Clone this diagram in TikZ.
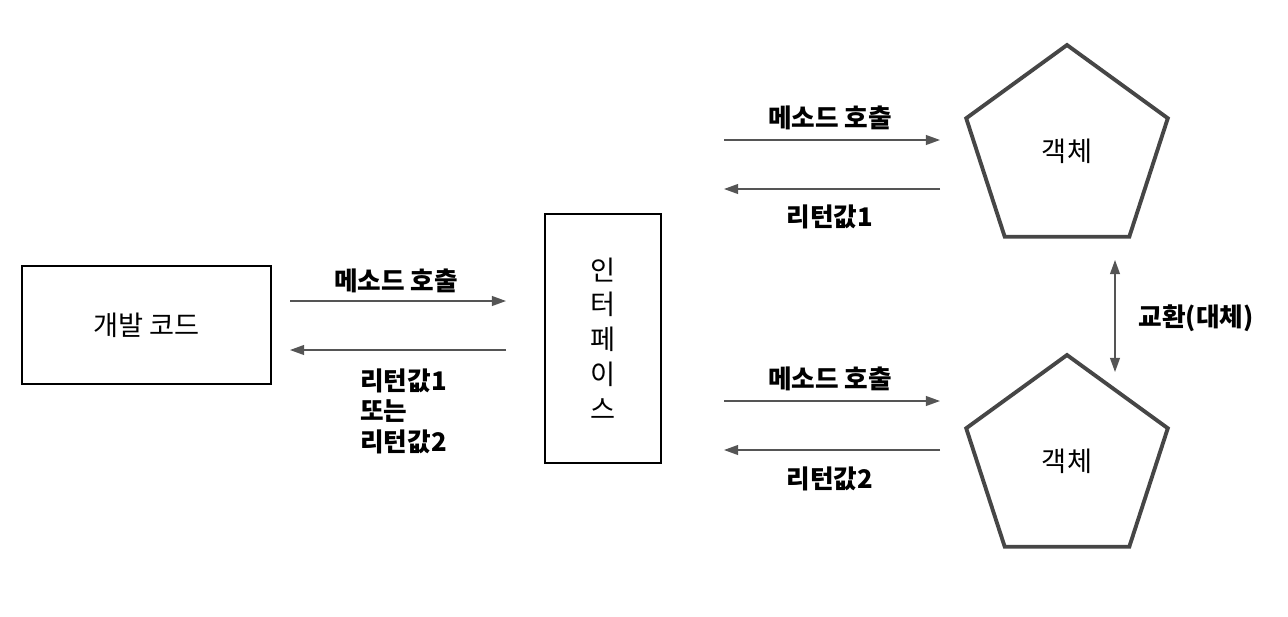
\documentclass[tikz,border=0pt]{standalone}
\usepackage{fontspec}
\setmainfont{Noto Sans CJK KR}
\usetikzlibrary{arrows.meta, shapes.geometric}
\definecolor{arrowgray}{RGB}{85,85,85}
\definecolor{shapegray}{RGB}{70,70,70}
\tikzset{
  codebox/.style={draw=black, line width=1.6pt, inner sep=0pt,
        font=\fontsize{15.5}{19.8}\selectfont, align=center},
  objshape/.style={draw=shapegray, line width=2.2pt, regular polygon,
        regular polygon sides=5, minimum size=4.24cm, inner sep=0pt,
        font=\fontsize{15.5}{17}\selectfont},
  msgarrow/.style={draw=arrowgray, line width=0.8pt,
        -{Triangle[length=8pt, width=5.6pt]}},
  swaparrow/.style={draw=arrowgray, line width=0.8pt,
        {Triangle[length=8pt, width=5.6pt]}-{Triangle[length=8pt, width=5.6pt]}},
  msglabel/.style={font=\bfseries\fontsize{14.6}{17.6}\selectfont, inner sep=0pt}
}
\begin{document}
\begin{tikzpicture}[x=0.02cm, y=-0.02cm]
  \useasboundingbox (0,0) rectangle (1288,616);
  % boxes
  \node[codebox, minimum width=4.98cm, minimum height=2.36cm]
    (devcode) at (146.5,325) {개발 코드};
  \node[codebox, minimum width=2.32cm, minimum height=4.98cm]
    (iface) at (603,338.5) {인\\터\\페\\이\\스};
  % objects
  \node[objshape] (objA) at (1067,151) {객체};
  \node[objshape] (objB) at (1067,461) {객체};
  % arrow ends
  \coordinate (devR1) at (290,301);  \coordinate (ifL1) at (506,301);
  \coordinate (devR2) at (290,350);  \coordinate (ifL2) at (506,350);
  \coordinate (ifRa1) at (724,140);  \coordinate (objAL1) at (940,140);
  \coordinate (ifRa2) at (724,189);  \coordinate (objAL2) at (940,189);
  \coordinate (ifRb1) at (724,401);  \coordinate (objBL1) at (940,401);
  \coordinate (ifRb2) at (724,450);  \coordinate (objBL2) at (940,450);
  \coordinate (swapT) at (1115,260); \coordinate (swapB) at (1115,372);
  % connectors
  \draw[msgarrow] (devR1) -- (ifL1);
  \draw[msgarrow] (ifL2) -- (devR2);
  \draw[msgarrow] (ifRa1) -- (objAL1);
  \draw[msgarrow] (objAL2) -- (ifRa2);
  \draw[msgarrow] (ifRb1) -- (objBL1);
  \draw[msgarrow] (objBL2) -- (ifRb2);
  \draw[swaparrow] (swapT) -- (swapB);
  % labels
  \node[msglabel] (callL) at (396,281) {메소드 호출};
  \node[msglabel, align=left, anchor=north west] (retL) at (360,368)
    {리턴값1\\또는\\리턴값2};
  \node[msglabel] (callA) at (830,118) {메소드 호출};
  \node[msglabel] (retA) at (830,217) {리턴값1};
  \node[msglabel] (callB) at (830,379) {메소드 호출};
  \node[msglabel] (retB) at (830,479) {리턴값2};
  \node[msglabel] (swapL) at (1196,318) {교환(대체)};
\end{tikzpicture}
\end{document}
